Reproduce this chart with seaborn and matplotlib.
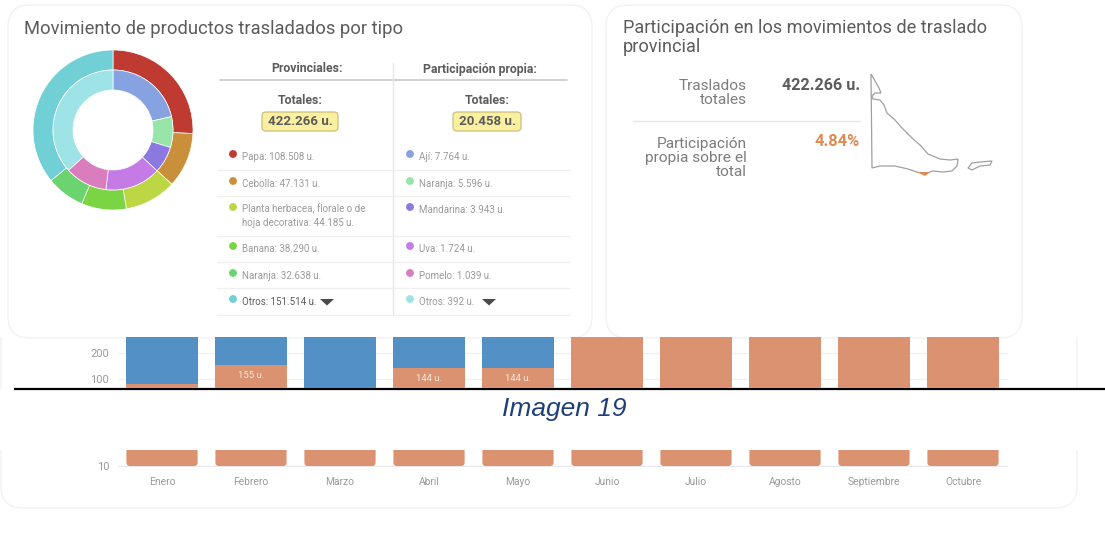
import matplotlib
matplotlib.use('Agg')
import matplotlib.pyplot as plt
from matplotlib.patches import FancyBboxPatch, Polygon, Rectangle
import pandas as pd
import seaborn as sns

# Datos
meses = ['Enero', 'Febrero', 'Marzo', 'Abril', 'Mayo', 'Junio', 'Julio', 'Agosto', 'Septiembre', 'Octubre']
propios = [81, 155, 50, 144, 144, 320, 320, 320, 320, 320]
totales_mes = [320, 320, 320, 320, 320, 320, 320, 320, 320, 320]
etiquetas_barras = ['', '155 u.', '', '144 u.', '144 u.', '', '', '', '', '']

prov_labels = ['Papa: 108.508 u.', 'Cebolla: 47.131 u.',
               'Planta herbacea, florale o de\nhoja decorativa: 44.185 u.',
               'Banana: 38.290 u.', 'Naranja: 32.638 u.', 'Otros: 151.514 u.']
prov_vals = [108508, 47131, 44185, 38290, 32638, 151514]
prov_cols = ['#BF3A30', '#C98F3B', '#BDD644', '#7BD443', '#6BD46F', '#71CFD6']

prop_labels = ['Ají: 7.764 u.', 'Naranja: 5.596 u.', 'Mandarina: 3.943 u.',
               'Uva: 1.724 u.', 'Pomelo: 1.039 u.', 'Otros: 392 u.']
# el anillo interior no sigue las cifras de la tabla, se lee del dibujo (%)
prop_share = [21.4, 8.3, 7.2, 15.0, 11.4, 36.7]
prop_cols = ['#86A2E0', '#97E5A9', '#8B78E0', '#C47BE5', '#D97DBE', '#9EE4E6']

# Silueta del mapa (contorno decorativo, en pixeles)
mapa = [(871, 74), (879, 88), (881, 93), (875, 93), (872, 96), (873, 99), (880, 100), (884, 105),
        (887, 113), (895, 120), (902, 128), (912, 138), (920, 145), (928, 154), (940, 159),
        (950, 160), (958, 159), (957, 166), (952, 171), (943, 172), (933, 171), (925, 174),
        (917, 172), (908, 169), (895, 166), (880, 166), (872, 168)]
mapa_naranja = [(917, 172), (930, 172), (925, 176)]
isla = [(968, 168), (972, 163), (980, 162), (992, 161), (990, 165), (980, 166), (972, 170)]

W, H = 1105, 534
GRIS = '#5c5c5c'
GRIS2 = '#9a9a9a'
AZUL = '#5390C6'
NARANJA = '#DB9270'
FUENTE = 'Roboto'

sns.set_theme(style='white')
plt.rcParams['font.family'] = [FUENTE, 'DejaVu Sans']
fig = plt.figure(figsize=(W / 100, H / 100), dpi=100, facecolor='white')


def px_axes(x0, y0, x1, y1, z=1):
    return fig.add_axes([x0 / W, 1 - y1 / H, (x1 - x0) / W, (y1 - y0) / H], zorder=z)


# Capa de fondo en pixeles
bg = px_axes(0, 0, W, H, z=0)
bg.set_xlim(0, W)
bg.set_ylim(H, 0)
bg.axis('off')


def card(x0, y0, x1, y1, z=1, r=22):
    bg.add_patch(FancyBboxPatch((x0 + r, y0 + r), x1 - x0 - 2 * r, y1 - y0 - 2 * r,
                                boxstyle=f'round,pad={r},rounding_size={r}',
                                fc='white', ec='#f2f2f4', lw=1.0, zorder=z))


card(1, 250, 1077, 508)
bg.add_patch(Rectangle((0, 389), W, 61, fc='white', ec='none', zorder=2))
bg.add_patch(Rectangle((0, 0), W, 337, fc='white', ec='none', zorder=2))
card(8, 5, 592, 338, z=3)
card(606, 5, 1022, 338, z=3)

# Linea negra y leyenda de la imagen
bg.plot([14, W], [389, 389], color='black', lw=1.6, zorder=4, solid_capstyle='butt')
bg.text(564.5, 409, 'Imagen 19', family=['Liberation Sans'], style='italic', size=19,
        color='#1F3F77', ha='center', va='center', zorder=4)


def t(x, y, s, size=8, col=GRIS2, ha='left', weight='normal', **kw):
    bg.text(x, y, s, size=size, color=col, ha=ha, va='center', weight=weight, zorder=5, **kw)


# Titulos
t(24, 28.5, 'Movimiento de productos trasladados por tipo', size=13.2, col=GRIS)
t(623, 28, 'Participación en los movimientos de traslado', size=13.05, col=GRIS)
t(623, 47, 'provincial', size=13.05, col=GRIS)

# Tabla
t(306.5, 69, 'Provinciales:', size=8.8, col=GRIS, ha='center', weight='bold')
t(480, 69, 'Participación propia:', size=8.8, col=GRIS, ha='center', weight='bold')
bg.plot([220, 567], [79.5, 79.5], color='#cfcfcf', lw=1.3, zorder=5)
bg.plot([393, 393], [63, 315], color='#e6e6e6', lw=1.0, zorder=5)
for x, total, x0, x1 in [(300, '422.266 u.', 262, 338), (487, '20.458 u.', 453, 521)]:
    t(x, 100, 'Totales:', size=8.8, col=GRIS, ha='center', weight='bold')
    bg.add_patch(FancyBboxPatch((x0 + 4, 116), x1 - x0 - 8, 11, boxstyle='round,pad=4,rounding_size=4',
                                fc='#FBF0A0', ec='#C9C080', lw=0.9, zorder=5))
    t(x, 121.5, total, size=9.6, col=GRIS, ha='center', weight='bold')
for y in [170, 196, 236, 262, 288, 315]:
    bg.plot([217, 570], [y, y], color='#efefef', lw=0.9, zorder=5)

filas_y = [154, 181, 207, 246, 273, 299]
for i, y in enumerate(filas_y):
    bg.scatter([233, 410], [y, y], s=32, color=[prov_cols[i], prop_cols[i]], zorder=6, lw=0)
    if i == 2:
        t(242, y + 8.5, prov_labels[i], size=7, linespacing=1.45)
    else:
        t(242, y + 3, prov_labels[i], size=7, col=GRIS if i == 5 else GRIS2)
    t(419, y + 3, prop_labels[i], size=7)
for xc in [327, 489]:
    bg.add_patch(Polygon([(xc - 7, 299), (xc + 7, 299), (xc, 305.5)], fc='#4a4a4a', ec='none', zorder=6))

# Panel derecho
t(747, 92.5, 'Traslados\ntotales', size=11.1, col='#7c7c7c', ha='right', linespacing=1.0)
t(860, 85, '422.266 u.', size=11.6, col=GRIS, ha='right', weight='bold')
bg.plot([633, 860], [121, 121], color='#e6e6e6', lw=1.0, zorder=5)
t(747, 158, 'Participación\npropia sobre el\ntotal', size=11.1, col='#7c7c7c', ha='right', linespacing=1.0)
t(860, 142, '4.84%', size=11.8, col='#E08A52', ha='right', weight='bold')
bg.add_patch(Polygon(mapa, closed=True, fc='none', ec='#a0a0a0', lw=0.9, zorder=5))
bg.add_patch(Polygon(isla, closed=True, fc='none', ec='#a0a0a0', lw=0.9, zorder=5))
bg.add_patch(Polygon(mapa_naranja, closed=True, fc='#E08A52', ec='none', zorder=6))

# Donut doble
ax_pie = px_axes(33, 50, 193, 210, z=3)
ax_pie.pie(prov_vals, colors=prov_cols, radius=1.0, startangle=90, counterclock=False,
           wedgeprops=dict(width=0.25, edgecolor='white', linewidth=0.5))
ax_pie.pie(prop_share, colors=prop_cols, radius=0.75, startangle=90, counterclock=False,
           wedgeprops=dict(width=0.25, edgecolor='white', linewidth=0.5))
ax_pie.set_xlim(-1, 1)
ax_pie.set_ylim(-1, 1)

# Tira superior de barras
df = pd.DataFrame({'mes': meses, 'propios': propios, 'total': totales_mes})
ax_top = px_axes(117.5, 337, 1007.5, 388, z=2)
ax_top.patch.set_alpha(0)
sns.barplot(data=df, x='mes', y='total', color=AZUL, saturation=1, width=0.8, ax=ax_top, zorder=3, linewidth=0)
sns.barplot(data=df, x='mes', y='propios', color=NARANJA, saturation=1, width=0.8, ax=ax_top, zorder=4, linewidth=0)
ax_top.set_ylim(65, 262)
ax_top.set_xlim(-0.5, 9.5)
ax_top.set_yticks([100, 200])
ax_top.set_xticks([])
ax_top.set_xlabel('')
ax_top.set_ylabel('')
ax_top.tick_params(axis='y', length=0, labelsize=8, labelcolor=GRIS2, pad=6)
ax_top.yaxis.grid(True, color='#eef0f3', lw=1)
ax_top.set_axisbelow(True)
sns.despine(ax=ax_top, left=True, bottom=True)
for i, (v, lab) in enumerate(zip(propios, etiquetas_barras)):
    if lab:
        ax_top.text(i, v - 42, lab, color='#f7e9df', size=6.8, ha='center', va='center', zorder=6)

# Tira inferior de barras
ax_low = px_axes(117.5, 450, 1007.5, 467, z=2)
ax_low.patch.set_alpha(0)
sns.barplot(data=df, x='mes', y='propios', color=NARANJA, saturation=1, width=0.8, ax=ax_low, zorder=3, linewidth=0)
ax_low.set_ylim(9, 26)
ax_low.set_xlim(-0.5, 9.5)
for p in list(ax_low.patches):
    p.set_visible(False)
    ax_low.add_patch(FancyBboxPatch((p.get_x(), 10), p.get_width(), p.get_height() - 10,
                                    boxstyle='round,pad=0,rounding_size=0.04', mutation_aspect=89,
                                    fc=NARANJA, ec='none', zorder=3))
ax_low.set_yticks([10])
ax_low.set_xlabel('')
ax_low.set_ylabel('')
ax_low.tick_params(axis='y', length=0, labelsize=8, labelcolor=GRIS2, pad=6)
ax_low.tick_params(axis='x', length=0, labelsize=7.4, labelcolor=GRIS2, pad=7)
ax_low.yaxis.grid(True, color='#e6e8ee', lw=1)
ax_low.set_axisbelow(True)
sns.despine(ax=ax_low, left=True, bottom=True)

fig.savefig('out.png', dpi=100)
